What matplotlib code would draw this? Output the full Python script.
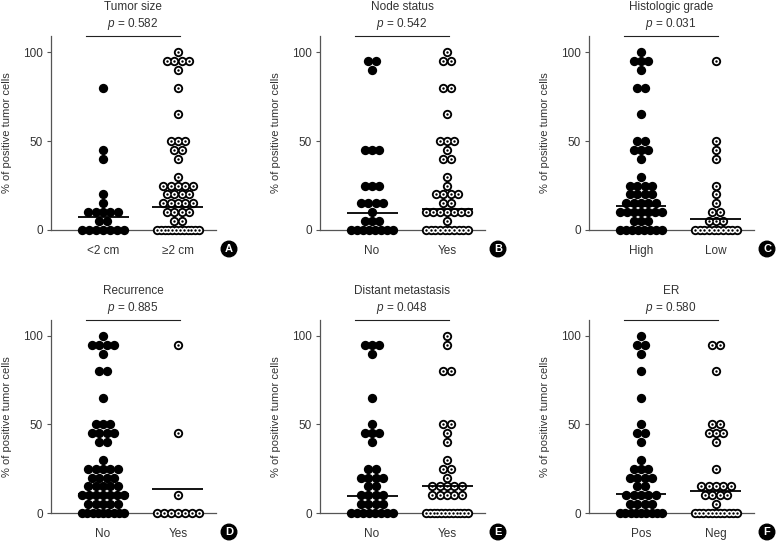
import numpy as np
import matplotlib
matplotlib.use('Agg')
import matplotlib.pyplot as plt

plt.rcParams['font.family'] = ['Liberation Sans', 'DejaVu Sans']
plt.rcParams['mathtext.fontset'] = 'custom'
plt.rcParams['mathtext.it'] = 'Liberation Sans:italic'
plt.rcParams['mathtext.rm'] = 'Liberation Sans'

# -------------------------
# DATA (value levels and number of dots)
# -------------------------
titles = ['Tumor size', 'Node status', 'Histologic grade',
          'Recurrence', 'Distant metastasis', 'ER']
p_values = ['0.582', '0.542', '0.031', '0.885', '0.048', '0.580']
group_labels = [['<2 cm', '\u22652 cm'], ['No', 'Yes'], ['High', 'Low'],
                ['No', 'Yes'], ['No', 'Yes'], ['Pos', 'Neg']]
panel_letters = ['A', 'B', 'C', 'D', 'E', 'F']

# Tumor size
a1_vals = [80, 45, 40, 20, 15, 10, 5, 0]
a1_n = [1, 1, 1, 1, 1, 5, 2, 7]
a2_vals = [100, 95, 90, 80, 65, 50, 45, 40, 30, 25, 20, 15, 10, 5, 0]
a2_n = [1, 4, 1, 1, 1, 3, 2, 1, 1, 5, 4, 5, 4, 2, 12]
# Node status
b1_vals = [95, 90, 45, 25, 15, 10, 5, 0]
b1_n = [2, 1, 3, 3, 4, 1, 3, 8]
b2_vals = [100, 95, 80, 65, 50, 45, 40, 30, 25, 20, 15, 10, 5, 0]
b2_n = [1, 2, 2, 1, 3, 1, 2, 1, 1, 4, 2, 7, 1, 10]
# Histologic grade
c1_vals = [100, 95, 90, 80, 65, 50, 45, 40, 30, 25, 20, 15, 10, 5, 0]
c1_n = [1, 3, 1, 2, 1, 2, 3, 1, 1, 4, 4, 5, 7, 3, 8]
c2_vals = [95, 50, 45, 40, 25, 20, 15, 10, 5, 0]
c2_n = [1, 1, 1, 1, 1, 1, 1, 2, 3, 10]
# Recurrence
d1_vals = [100, 95, 90, 80, 65, 50, 45, 40, 30, 25, 20, 15, 10, 5, 0]
d1_n = [1, 4, 1, 2, 1, 3, 4, 2, 1, 5, 4, 5, 7, 5, 9]
d2_vals = [95, 45, 10, 0]
d2_n = [1, 1, 1, 7]
# Distant metastasis
e1_vals = [95, 90, 65, 50, 45, 40, 25, 20, 15, 10, 5, 0]
e1_n = [3, 1, 1, 1, 3, 1, 2, 4, 2, 4, 4, 8]
e2_vals = [100, 95, 80, 50, 45, 40, 30, 25, 20, 15, 10, 0]
e2_n = [1, 1, 2, 2, 1, 1, 1, 2, 1, 5, 5, 12]
# ER
f1_vals = [100, 95, 90, 80, 65, 50, 45, 40, 30, 25, 20, 15, 10, 5, 0]
f1_n = [1, 2, 1, 1, 1, 1, 2, 1, 1, 3, 4, 2, 5, 4, 9]
f2_vals = [95, 80, 50, 45, 40, 25, 15, 10, 5, 0]
f2_n = [2, 1, 2, 3, 1, 1, 5, 4, 1, 11]

groups = [
    ((a1_vals, a1_n), (a2_vals, a2_n)),
    ((b1_vals, b1_n), (b2_vals, b2_n)),
    ((c1_vals, c1_n), (c2_vals, c2_n)),
    ((d1_vals, d1_n), (d2_vals, d2_n)),
    ((e1_vals, e1_n), (e2_vals, e2_n)),
    ((f1_vals, f1_n), (f2_vals, f2_n)),
]
# horizontal lines drawn in each group
center_lines = [[7.1, 12.8], [9.8, 11.8], [13.7, 6.2],
                [10.6, 13.6], [9.4, 15.5], [10.8, 12.6]]

# -------------------------
# LAYOUT
# -------------------------
W, H = 778, 542
fig = plt.figure(figsize=(W / 100, H / 100), dpi=100)

ax_lefts = [51, 320, 589]
ax_tops = [36, 320]      # pixel y of top of y spine
ax_bottoms = [230, 513]  # pixel y of x axis
ax_w = 165
px_per_unit = 75.0
x0 = 1 - 52 / px_per_unit
x1 = x0 + ax_w / px_per_unit

txt_col = '#333333'
ax_col = '#555555'


def swarm_x(center, n):
    step = min(0.097, 0.56 / max(n - 1, 1))
    return center + (np.arange(n) - (n - 1) / 2.0) * step


def draw_group(ax, vals, counts, pos, hollow):
    xs, ys = [], []
    for v, c in zip(vals, counts):
        xs.extend(swarm_x(pos, c))
        ys.extend([v] * c)
    ax.scatter(xs, ys, s=45, c='black', clip_on=False, zorder=3, linewidths=0)
    if hollow:
        ax.scatter(xs, ys, s=16, c='white', clip_on=False, zorder=4, linewidths=0)
        ax.scatter(xs, ys, s=3, c='black', clip_on=False, zorder=5, linewidths=0)


for i in range(6):
    row, col = divmod(i, 3)
    left = ax_lefts[col]
    top = ax_tops[row]
    bot = ax_bottoms[row]
    ax = fig.add_axes([left / W, (H - bot) / H, ax_w / W, (bot - top) / H])

    for g, ((vals, counts), line_v) in enumerate(zip(groups[i], center_lines[i])):
        pos = g + 1
        draw_group(ax, vals, counts, pos, hollow=(g == 1))
        ax.plot([pos - 0.34, pos + 0.34], [line_v, line_v], color='black',
                lw=1.3, zorder=6, solid_capstyle='butt')

    ax.set_xlim(x0, x1)
    ax.set_ylim(0, 109)
    ax.set_yticks([0, 50, 100])
    ax.set_xticks([1, 2])
    ax.set_xticklabels(group_labels[i])
    ax.tick_params(axis='x', length=0, pad=11, labelsize=8.5, colors=txt_col)
    ax.tick_params(axis='y', length=3, width=0.8, pad=3, labelsize=8.5,
                   colors=txt_col, color=ax_col)
    for s in ['top', 'right']:
        ax.spines[s].set_visible(False)
    for s in ['left', 'bottom']:
        ax.spines[s].set_color(ax_col)
        ax.spines[s].set_linewidth(0.9)
    ax.set_ylabel('% of positive tumor cells', fontsize=8, color=txt_col)
    ax.yaxis.set_label_coords(-39 / ax_w, 0.5)

    # significance bar, p value and title
    bx0 = (left + 35) / W
    bx1 = (left + 129) / W
    by = 1 - top / H
    fig.add_artist(plt.Line2D([bx0, bx1], [by, by], color='#222222', lw=0.8))
    cx = (bx0 + bx1) / 2
    fig.text(cx, 1 - (top - 12) / H, '$p$ = ' + p_values[i], ha='center',
             va='center', fontsize=8.5, color=txt_col)
    fig.text(cx, 1 - (top - 29) / H, titles[i], ha='center', va='center',
             fontsize=8.5, color=txt_col)

    # panel letter badge
    fig.text((left + 178) / W, 1 - (bot + 19) / H, panel_letters[i],
             ha='center', va='center', fontsize=8, fontweight='bold', color='white',
             bbox=dict(boxstyle='circle,pad=0.25', fc='black', ec='black'))

fig.savefig('out.png', dpi=100)
